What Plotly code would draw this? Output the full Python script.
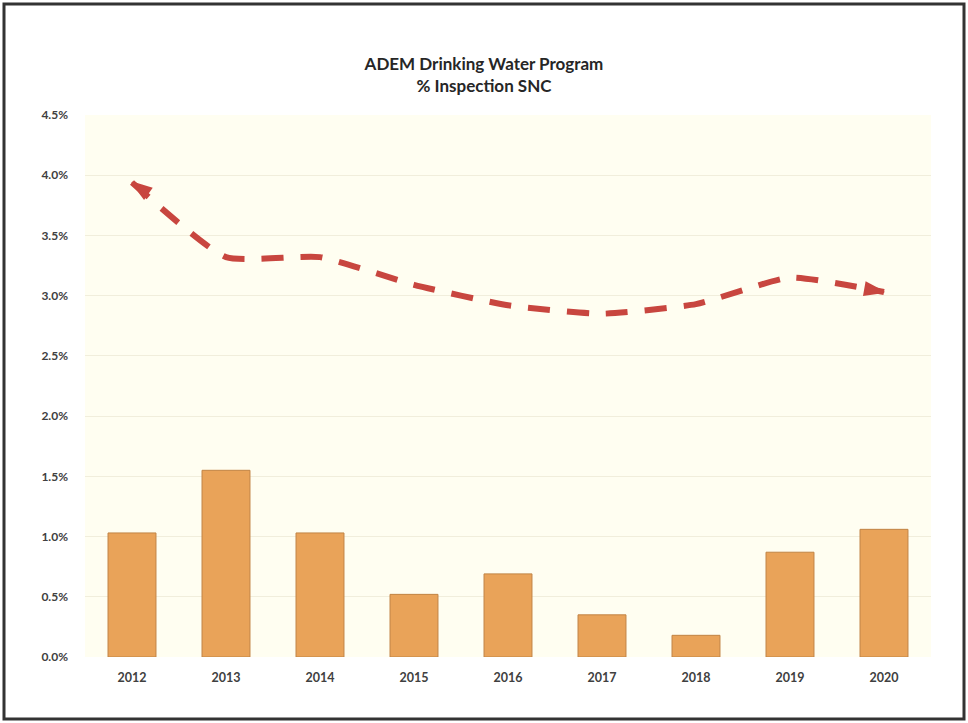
import plotly.graph_objects as go

years = ["2012", "2013", "2014", "2015", "2016", "2017", "2018", "2019", "2020"]
bar_values = [0.0103, 0.0155, 0.0103, 0.0052, 0.0069, 0.0035, 0.0018, 0.0087, 0.0106]
line_values = [0.0394, 0.0332, 0.0332, 0.0309, 0.0292, 0.0285, 0.0293, 0.0315, 0.0303]
y_ticks = [0, 0.005, 0.01, 0.015, 0.02, 0.025, 0.03, 0.035, 0.04, 0.045]

W, H = 968, 723
ML, MR, MT, MB = 85, 37, 115, 66
PW, PH = W - ML - MR, H - MT - MB

fig = go.Figure()
fig.add_trace(go.Bar(
    x=years, y=bar_values, width=0.51,
    marker=dict(color="#E9A359", line=dict(color="#C18444", width=1)),
    hoverinfo="x+y",
))
n = len(years)
fig.add_trace(go.Scatter(
    x=years, y=line_values, mode="lines+markers",
    line=dict(color="#C8463F", width=6, dash="22px,17px", shape="spline", smoothing=0.5),
    marker=dict(symbol="arrow", size=[20] + [0] * (n - 2) + [20],
                angle=[-55] + [0] * (n - 2) + [100],
                color="#C8463F", opacity=1, line=dict(width=2, color="#C8463F")),
))

fig.update_layout(
    width=W, height=H,
    margin=dict(l=ML, r=MR, t=MT, b=MB),
    paper_bgcolor="white", plot_bgcolor="#FFFEF1",
    showlegend=False, bargap=0.49,
    font=dict(family="Lato, 'Open Sans', sans-serif", color="#404040"),
    title=dict(text="<b>ADEM Drinking Water Program<br>% Inspection SNC</b>",
               x=0.5, xref="container", xanchor="center",
               y=1 - 70 / H, yref="container", yanchor="middle",
               font=dict(size=17, color="#262626")),
    xaxis=dict(type="category", range=[-0.5, n - 0.5], showgrid=False, showline=False, ticks="",
               tickfont=dict(size=12.5, color="#404040", weight="bold"),
               ticklabelstandoff=11),
    yaxis=dict(range=[0, 0.045], tickvals=y_ticks, tickformat=".1%",
               showgrid=True, gridcolor="#F1EEDC", gridwidth=1,
               zeroline=False, showline=False, ticks="",
               tickfont=dict(size=12, color="#404040", weight="bold"),
               ticklabelstandoff=16),
    shapes=[dict(type="rect", xref="paper", yref="paper",
                 x0=-(ML - 4) / PW, x1=1 + (MR - 4) / PW,
                 y0=-(MB - 4) / PH, y1=1 + (MT - 4) / PH,
                 line=dict(color="#333333", width=3), layer="above")],
)

fig.write_html("out.html")
